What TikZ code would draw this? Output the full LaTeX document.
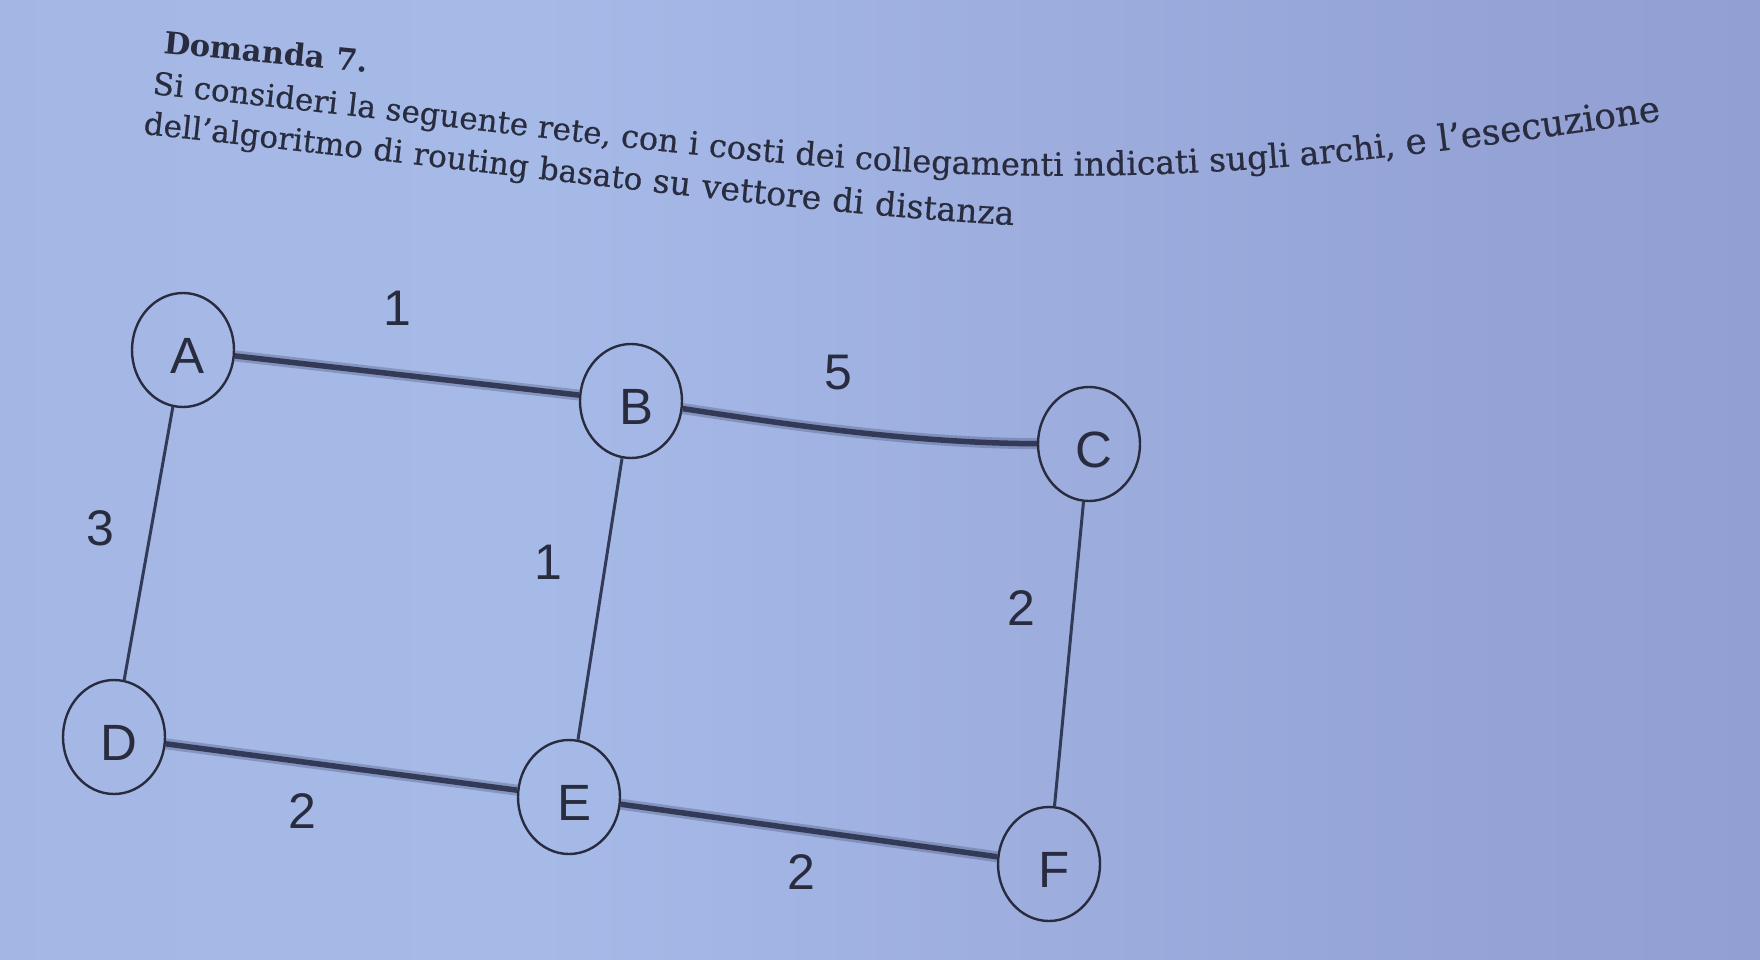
\documentclass[tikz,border=0pt]{standalone}
\usepackage{fontspec}
\setmainfont{DejaVu Serif}
\newfontfamily\lblfont{Liberation Sans}
\usetikzlibrary{shapes.geometric,decorations.text}
\definecolor{ink}{RGB}{40,44,62}
\definecolor{edgeink}{RGB}{50,58,88}
\definecolor{pa}{RGB}{160,176,222}
\definecolor{pb}{RGB}{166,186,232}
\definecolor{pc}{RGB}{148,162,213}
\definecolor{pd}{RGB}{137,151,205}
\definecolor{pe}{RGB}{150,170,218}
\pgfdeclarehorizontalshading{paper}{100bp}{color(0bp)=(pa); color(40bp)=(pb); color(68bp)=(pc); color(95bp)=(pd); color(100bp)=(pe)}
\newcommand\vlab[1]{\raisebox{-6pt}[\height][\depth]{\kern5pt#1\kern-5pt}}
\begin{document}
\begin{tikzpicture}[x=1pt,y=-1pt,
  vtx/.style={ellipse, draw=ink, line width=2.4pt, minimum width=102pt, minimum height=114pt, inner sep=0pt, font=\lblfont\fontsize{51}{51}\selectfont, text=ink},
  cost/.style={font=\lblfont\fontsize{50}{50}\selectfont, text=ink, inner sep=0pt},
  thinedge/.style={draw=edgeink, line width=3pt},
  thickhalo/.style={draw=edgeink, line width=11pt, opacity=0.28},
  thickedge/.style={draw=edgeink, line width=5.5pt}
]
\useasboundingbox (0,0) rectangle (1760,960);
\shade[shading=paper] (0,0) rectangle (1760,960);

% heading
\node[anchor=base west, rotate=-5.6, font=\bfseries\fontsize{30.5}{30.5}\selectfont, text=ink, inner sep=0pt] (title) at (163,53) {Domanda 7.};

\path[decorate, decoration={text along path, text color=ink,
  text align={fit to path stretching spaces},
  text={|\fontsize{31}{31}\selectfont\addfontfeatures{FakeBold=0.5}|Si consideri la seguente rete{,} |\fontsize{32}{32}\selectfont\addfontfeatures{FakeBold=0.5}|con i costi dei collegamenti |\fontsize{33}{33}\selectfont\addfontfeatures{FakeBold=0.5}|indicati sugli archi{,} |\fontsize{36}{36}\selectfont\addfontfeatures{FakeBold=0.5}|e l’esecuzione}}]
  (152,94) .. controls (600,141) and (750,169) .. (1000,175) .. controls (1250,181) and (1450,151) .. (1658,121);

\path[decorate, decoration={text along path, text color=ink,
  text align={fit to path stretching spaces},
  text={|\fontsize{31}{31}\selectfont\addfontfeatures{FakeBold=0.5}|dell’algoritmo di routing basato |\fontsize{33}{33}\selectfont\addfontfeatures{FakeBold=0.5}|su vettore di distanza}}]
  (143,134) .. controls (450,166) and (800,214) .. (1013,225);

% nodes
\node[vtx] (A) at (183,350) {\vlab{A}};
\node[vtx] (B) at (631,401) {\vlab{B}};
\node[vtx] (C) at (1089,444) {\vlab{C}};
\node[vtx] (D) at (114,737) {\vlab{D}};
\node[vtx] (E) at (569,797) {\vlab{E}};
\node[vtx] (F) at (1049,864) {\vlab{F}};

% edges
\draw[thickhalo] (A) -- (B);
\draw[thickedge] (A) -- (B);
\draw[thickhalo] (B) .. controls (760,420) and (900,443) .. (C);
\draw[thickedge] (B) .. controls (760,420) and (900,443) .. (C);
\draw[thickhalo] (D) -- (E);
\draw[thickedge] (D) -- (E);
\draw[thickhalo] (E) -- (F);
\draw[thickedge] (E) -- (F);
\draw[thinedge] (A) -- (D);
\draw[thinedge] (B) -- (E);
\draw[thinedge] (C) -- (F);

% costs
\node[cost] (cab) at (397,308) {1};
\node[cost] (cbc) at (838,373) {5};
\node[cost] (cad) at (100,528) {3};
\node[cost] (cbe) at (548,562) {1};
\node[cost] (ccf) at (1021,608) {2};
\node[cost] (cde) at (302,811) {2};
\node[cost] (cef) at (801,872) {2};
\end{tikzpicture}
\end{document}
